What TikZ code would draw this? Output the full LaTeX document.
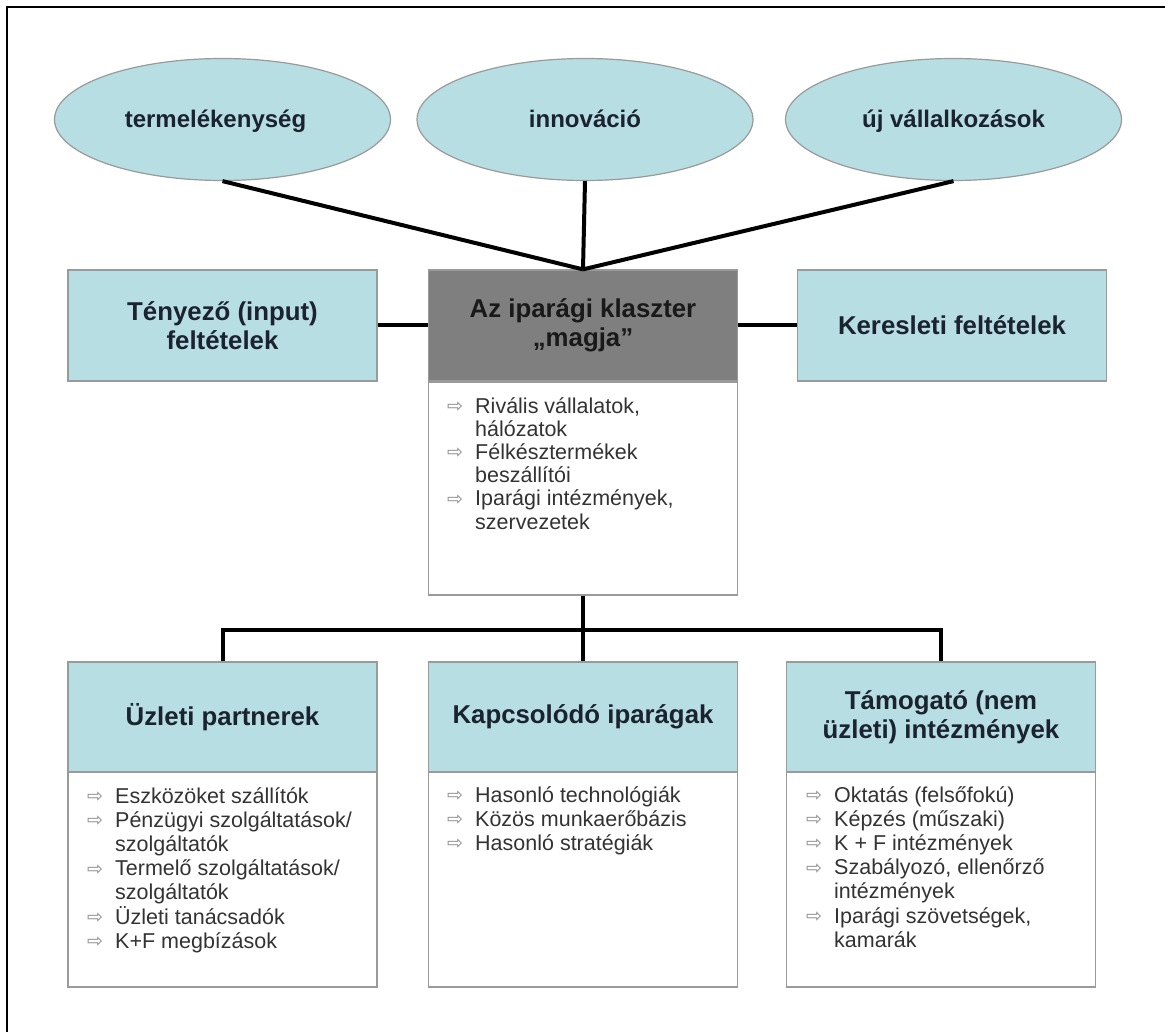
\documentclass[tikz,border=0pt]{standalone}
\usepackage{fontspec}
\setmainfont{Liberation Sans}
\newfontfamily\arrowfont{DejaVu Sans}
\usetikzlibrary{shapes.geometric}
\definecolor{lblue}{HTML}{B7DEE2}
\definecolor{bgrey}{HTML}{9A9A9A}
\definecolor{coregrey}{HTML}{7F7F7F}
\definecolor{htext}{HTML}{1B2230}
\definecolor{btext}{HTML}{333333}
\definecolor{arrgrey}{HTML}{8C8C8C}
\newcommand\bitem[1]{\par\hangindent=28pt\hangafter=1\noindent\makebox[28pt][l]{\raisebox{0.5pt}{\arrowfont\fontsize{19}{19}\selectfont\textcolor{arrgrey}{⇨}}}#1}
\newcommand\blist[2][23.2]{\begin{minipage}[t]{300pt}\fontsize{21.5}{#1}\selectfont #2\end{minipage}}
\newcommand\lowered[1]{\raisebox{-8.5pt}[0pt][0pt]{#1}}
\tikzset{
  oval/.style={ellipse, draw=bgrey, line width=1.2pt, fill=lblue, minimum width=336pt, minimum height=122pt, font=\bfseries\fontsize{24}{28}\selectfont, text=htext, inner sep=0pt},
  hbox/.style={rectangle, draw=bgrey, line width=1.2pt, fill=lblue, minimum width=309pt, minimum height=111pt, font=\bfseries\fontsize{25.8}{29}\selectfont, text=htext, align=center, inner sep=0pt},
  bbox/.style={rectangle, draw=bgrey, line width=1.2pt, fill=white, minimum width=309pt, inner sep=0pt},
  btxt/.style={anchor=base west, inner sep=0pt, text=btext},
  link/.style={line width=4pt, black, line join=miter},
  frame/.style={line width=1.5pt, black},
}
\begin{document}
\begin{tikzpicture}[x=1pt, y=-1pt]
\useasboundingbox (0,0) rectangle (1165,1032);
\fill[white] (0,0) rectangle (1165,1032);
\draw[frame] (7,1032) -- (7,7) -- (1165,7);

% ellipses
\node[oval] (e1) at (222.5,119.5) {\lowered{termelékenység\hspace*{14pt}}};
\node[oval] (e2) at (585,119.5) {\lowered{innováció}};
\node[oval] (e3) at (953.5,119.5) {\lowered{új vállalkozások}};

% top row
\node[hbox] (tf) at (222.5,325.5) {Tényező (input)\\feltételek};
\node[hbox, fill=coregrey, text=black!90] (core) at (583,325.5) {Az iparági klaszter\\„magja”};
\node[hbox] (ker) at (952,325.5) {Keresleti feltételek};
\node[bbox, minimum height=213pt] (cb) at (583,488.5) {};

% bottom row
\node[hbox, minimum height=110pt] (h1) at (222.5,717) {Üzleti partnerek};
\node[hbox, minimum height=110pt] (h2) at (583,717) {Kapcsolódó iparágak};
\node[hbox, minimum height=110pt] (h3) at (941,717) {Támogató (nem\\üzleti) intézmények};
\node[bbox, minimum height=215pt] (b1) at (222.5,879.5) {};
\node[bbox, minimum height=215pt] (b2) at (583,879.5) {};
\node[bbox, minimum height=215pt] (b3) at (941,879.5) {};

% body texts
\node[btxt] (tc) at (447,413) {\blist{%
\bitem{Rivális vállalatok,\\hálózatok}
\bitem{Félkésztermékek\\beszállítói}
\bitem{Iparági intézmények,\\szervezetek}}};
\node[btxt] (t1) at (87,803) {\blist[24.2]{%
\bitem{Eszközöket szállítók}
\bitem{Pénzügyi szolgáltatások/\\szolgáltatók}
\bitem{Termelő szolgáltatások/\\szolgáltatók}
\bitem{Üzleti tanácsadók}
\bitem{K+F megbízások}}};
\node[btxt] (t2) at (447,802) {\blist[24.2]{%
\bitem{Hasonló technológiák}
\bitem{Közös munkaerőbázis}
\bitem{Hasonló stratégiák}}};
\node[btxt] (t3) at (806,802) {\blist[24.2]{%
\bitem{Oktatás (felsőfokú)}
\bitem{Képzés (műszaki)}
\bitem{K + F intézmények}
\bitem{Szabályozó, ellenőrző\\intézmények}
\bitem{Iparági szövetségek,\\kamarák}}};

% connectors
\draw[link] (e1.south) -- (core.north);
\draw[link] (e2.south) -- (core.north);
\draw[link] (e3.south) -- (core.north);
\draw[link] (tf.east) -- (core.west);
\draw[link] (core.east) -- (ker.west);
\coordinate (j) at (583,630);
\draw[link] (cb.south) -- (h2.north);
\draw[link] (h1.north) -- (h1.north |- j) -- (h3.north |- j) -- (h3.north);
\end{tikzpicture}
\end{document}
